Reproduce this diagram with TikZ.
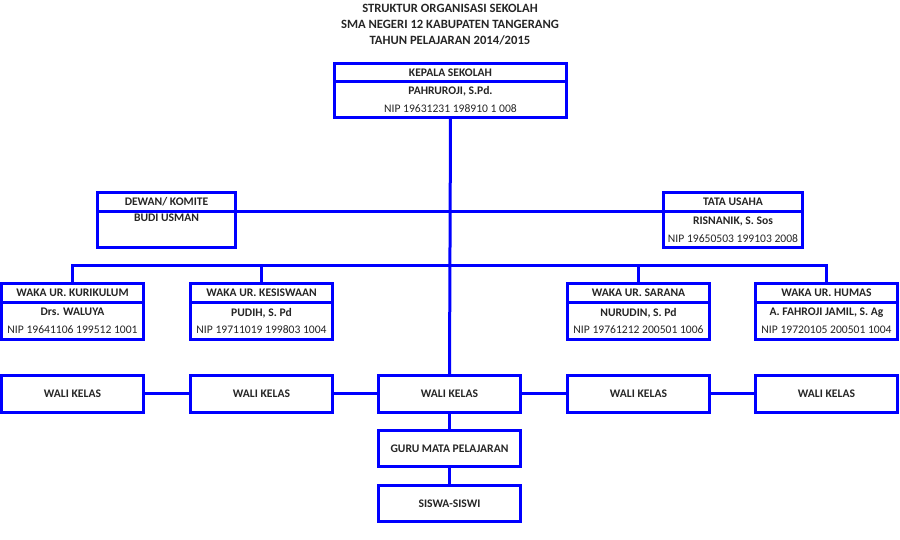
\documentclass[tikz,border=0pt]{standalone}
\usepackage{fontspec}
\setmainfont{Carlito}
\tikzset{
  kotak/.style={draw=blue, line width=0.06cm, fill=white, inner sep=0pt, outer sep=0pt, anchor=north,
    align=center, text=black!85, font=\fontsize{6.6}{10.2}\selectfont},
  judulkotak/.style={kotak, font=\bfseries\fontsize{6.6}{10.2}\selectfont},
  garis/.style={draw=blue, line width=0.06cm},
  lebarkepsek/.style={minimum width=4.66cm},
  lebarstaf/.style={minimum width=2.78cm},
  lebarwaka/.style={minimum width=2.86cm},
}
\begin{document}
\begin{tikzpicture}[x=0.02cm, y=-0.02cm]
        \useasboundingbox (0,0) rectangle (900,540);
        % 1. Judul
        \node[align=center, text=black!85, font=\bfseries\fontsize{7.2}{9.1}\selectfont] (judul) at (450,25)
            {STRUKTUR ORGANISASI SEKOLAH\\SMA NEGERI 12 KABUPATEN TANGERANG\\TAHUN PELAJARAN 2014/2015};
        
        % 2. Kepala sekolah
        \node[judulkotak, lebarkepsek, minimum height=0.36cm] (kepsek) at (450.5,63.5) {KEPALA SEKOLAH};
        \node[kotak, lebarkepsek, minimum height=0.72cm] (kepsekisi) at (kepsek.south)
            {{\bfseries PAHRUROJI, S.Pd.}\\NIP 19631231 198910 1 008};
        
        % 3. Dewan / komite dan tata usaha
        \node[judulkotak, lebarstaf, minimum height=0.38cm] (dewan) at (166.5,192.5) {DEWAN/ KOMITE};
        \node[kotak, lebarstaf, minimum height=0.72cm] (dewanisi) at (dewan.south)
            {{\bfseries BUDI USMAN}\\\strut};
        \node[judulkotak, lebarstaf, minimum height=0.38cm] (tu) at (733,192.5) {TATA USAHA};
        \node[kotak, lebarstaf, minimum height=0.72cm] (tuisi) at (tu.south)
            {{\bfseries RISNANIK, S. Sos}\\NIP 19650503 199103 2008};
        
        % 4. Wakil kepala sekolah
        \node[judulkotak, lebarwaka, minimum height=0.38cm] (kurikulum) at (72.5,283.5) {WAKA UR. KURIKULUM};
        \node[kotak, lebarwaka, minimum height=0.74cm] (kurikulumisi) at (kurikulum.south)
            {{\bfseries Drs. WALUYA}\\NIP 19641106 199512 1001};
        \node[judulkotak, lebarwaka, minimum height=0.38cm] (kesiswaan) at (261.5,283.5) {WAKA UR. KESISWAAN};
        \node[kotak, lebarwaka, minimum height=0.74cm] (kesiswaanisi) at (kesiswaan.south)
            {{\bfseries PUDIH, S. Pd}\\NIP 19711019 199803 1004};
        \node[judulkotak, lebarwaka, minimum height=0.38cm] (sarana) at (638.5,283.5) {WAKA UR. SARANA};
        \node[kotak, lebarwaka, minimum height=0.74cm] (saranaisi) at (sarana.south)
            {{\bfseries NURUDIN, S. Pd}\\NIP 19761212 200501 1006};
        \node[judulkotak, lebarwaka, minimum height=0.38cm] (humas) at (826.5,283.5) {WAKA UR. HUMAS};
        \node[kotak, lebarwaka, minimum height=0.74cm] (humasisi) at (humas.south)
            {{\bfseries A. FAHROJI JAMIL, S. Ag}\\NIP 19720105 200501 1004};
        
        % 5. Wali kelas, guru, siswa
        \node[judulkotak, lebarwaka, minimum height=0.74cm] (wali1) at (72.5,375.5) {WALI KELAS};
        \node[judulkotak, lebarwaka, minimum height=0.74cm] (wali2) at (261.5,375.5) {WALI KELAS};
        \node[judulkotak, lebarwaka, minimum height=0.74cm] (wali3) at (449.5,375.5) {WALI KELAS};
        \node[judulkotak, lebarwaka, minimum height=0.74cm] (wali4) at (638.5,375.5) {WALI KELAS};
        \node[judulkotak, lebarwaka, minimum height=0.74cm] (wali5) at (826.5,375.5) {WALI KELAS};
        \node[judulkotak, lebarwaka, minimum height=0.72cm] (guru) at (449.5,431) {GURU MATA PELAJARAN};
        \node[judulkotak, lebarwaka, minimum height=0.72cm] (siswa) at (449.5,486) {SISWA-SISWI};
        
        % 6. Garis penghubung
        \draw[garis] (kepsekisi.south) -- (wali3.north);
        \draw[garis] (dewan.south east) -- (tu.south west);
        \coordinate (cabang) at (450,266);
        \draw[garis] (kurikulum.north) |- (cabang) -| (humas.north);
        \draw[garis] (kesiswaan.north) -- (kesiswaan.north |- cabang);
        \draw[garis] (sarana.north) -- (sarana.north |- cabang);
        \draw[garis] (wali1) -- (wali2) -- (wali3) -- (wali4) -- (wali5);
        \draw[garis] (wali3) -- (guru) -- (siswa);
        
\end{tikzpicture}
\end{document}
